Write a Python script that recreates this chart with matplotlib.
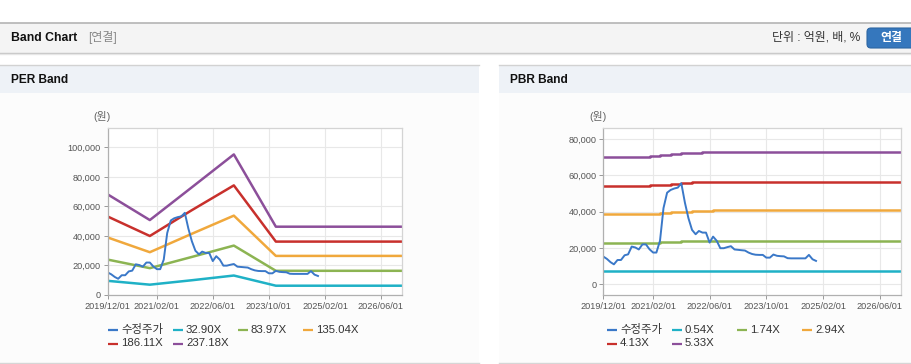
import numpy as np
import pandas as pd
import matplotlib
matplotlib.use("Agg")
import matplotlib.pyplot as plt
from matplotlib.lines import Line2D
from matplotlib.patches import Rectangle, FancyBboxPatch
from matplotlib.transforms import Affine2D

plt.rcParams['font.family'] = ['Liberation Sans', 'Noto Sans CJK KR']

W, H = 912, 364

# ---- data ----
price_dates = pd.date_range('2019-12-01', periods=61, freq='MS')
price = [15300, 14000, 12200, 11000, 13400, 13400, 16000, 16500, 20800, 20300,
         19200, 22000, 22000, 19300, 17500, 17500, 24000, 42000, 50500, 52000,
         52800, 53300, 55700, 45000, 36500, 30000, 27600, 29400, 28500, 28500,
         23000, 26300, 24000, 19900, 19900, 20500, 21000, 19200, 19000, 18800,
         18600, 17500, 16700, 16300, 16200, 16200, 14700, 14700, 16400, 15700,
         15500, 15400, 14400, 14300, 14300, 14300, 14300, 14300, 16200, 13800,
         12900]

per_dates = pd.to_datetime(['2019-12-01', '2020-12-01', '2021-12-01',
                            '2022-12-01', '2023-12-01', '2026-12-01'])
per_names = ['32.90X', '83.97X', '135.04X', '186.11X', '237.18X']
per_bands = [
    [9600, 7000, 10000, 13200, 6300, 6300],
    [24000, 18200, 25800, 33500, 16400, 16400],
    [39000, 29000, 41500, 53800, 26500, 26500],
    [53200, 40000, 57500, 74300, 36200, 36200],
    [68200, 50800, 73000, 95300, 46300, 46300],
]

pbr_dates = pd.to_datetime(['2019-12-01', '2021-01-01', '2021-04-01', '2021-07-01',
                            '2021-10-01', '2022-01-01', '2022-04-01', '2022-07-01',
                            '2026-12-01'])
pbr_names = ['0.54X', '1.74X', '2.94X', '4.13X', '5.33X']
pbr_bands = [
    [7300, 7300, 7350, 7350, 7400, 7400, 7400, 7450, 7450],
    [22800, 23000, 23300, 23500, 23700, 23900, 24000, 24100, 24100],
    [38800, 39000, 39300, 39600, 39900, 40200, 40500, 40800, 40800],
    [54200, 54600, 55000, 55500, 55900, 56200, 56400, 56600, 56600],
    [70400, 70900, 71500, 71900, 72300, 72600, 72800, 73000, 73000],
]

xtick_dates = pd.to_datetime(['2019-12-01', '2021-02-01', '2022-06-01',
                              '2023-10-01', '2025-02-01', '2026-06-01'])
xtick_labels = ['2019/12/01', '2021/02/01', '2022/06/01', '2023/10/01',
                '2025/02/01', '2026/06/01']
per_yticks = [0, 20000, 40000, 60000, 80000, 100000]
pbr_yticks = [0, 20000, 40000, 60000, 80000]

price_name = '수정주가'
price_color = '#3a78c8'
band_colors = ['#1fb1c6', '#8cb452', '#f0a83c', '#c8302c', '#8c4f9a']

# ---- figure & page chrome ----
fig = plt.figure(figsize=(W / 100, H / 100), dpi=100)
fig.patch.set_facecolor('white')
px = Affine2D().scale(1 / W, -1 / H).translate(0, 1) + fig.transFigure


def rect(x, y, w, h, color, z=0):
    fig.add_artist(Rectangle((x, y), w, h, transform=px, facecolor=color,
                             edgecolor='none', zorder=z))


def hline(x0, x1, y, color, lw=1.0):
    fig.add_artist(Line2D([x0, x1], [y, y], transform=px, color=color, lw=lw))


# top header bar
rect(0, 23, W, 30, '#f4f4f4')
hline(0, W, 22.5, '#b4b4b4', 1.2)
hline(0, W, 52.8, '#c4c4c4', 1.0)
hline(0, W, 54.0, '#e6e6e6', 1.0)
fig.text(11 / W, 1 - 38 / H, 'Band Chart', fontsize=8.8, fontweight='bold',
         va='center', ha='left', color='#111')
fig.text(88 / W, 1 - 38 / H, '[연결]', fontsize=8.6, va='center', ha='left',
         color='#888')
fig.text(860 / W, 1 - 38 / H, '단위 : 억원, 배, %', fontsize=8.6, va='center',
         ha='right', color='#333')
fig.add_artist(FancyBboxPatch((867, 28), 50, 20, transform=px,
                              boxstyle='round,pad=0,rounding_size=4',
                              facecolor='#3577bd', edgecolor='#2d66a3', lw=0.8))
fig.text(891 / W, 1 - 38 / H, '연결', fontsize=8.6, fontweight='bold',
         va='center', ha='center', color='white')

# panels
for x0, x1, title in [(0, 479, 'PER Band'), (499, W, 'PBR Band')]:
    rect(x0, 65, x1 - x0, 28, '#eef2f7')
    rect(x0, 93, x1 - x0, 270, '#fcfcfc')
    hline(x0, x1, 64.5, '#d2d2d2', 1.0)
    hline(x0, x1, 362.8, '#d6d6d6', 1.0)
    fig.text((x0 + 11) / W, 1 - 80 / H, title, fontsize=8.6, fontweight='bold',
             va='center', ha='left', color='#111')


def setup_axes(ax, yticks, ylim):
    ax.set_facecolor('white')
    ax.set_xlim(pd.Timestamp('2019-12-01'), pd.Timestamp('2026-12-01'))
    ax.set_ylim(*ylim)
    ax.set_xticks(xtick_dates)
    ax.set_xticklabels(xtick_labels)
    ax.set_yticks(yticks)
    ax.set_yticklabels([f'{v:,}' for v in yticks])
    ax.grid(True, color='#e8e8e8', lw=0.8)
    ax.set_axisbelow(True)
    ax.tick_params(labelsize=6.6, length=3, width=0.7, pad=2)
    ax.tick_params(axis='x', colors='#999', labelcolor='#555')
    ax.tick_params(axis='y', colors='#999', labelcolor='#555')
    for s in ['left', 'bottom']:
        ax.spines[s].set_color('#b0b0b0')
    for s in ['top', 'right']:
        ax.spines[s].set_color('#d4d4d4')
    for s in ax.spines.values():
        s.set_linewidth(0.9)


def legend(x0, names):
    for i, (name, color) in enumerate(names):
        col, row = i % 4, i // 4
        x = x0 + col * 65
        y = 330 + row * 13.5
        fig.add_artist(Line2D([x, x + 10], [y, y], transform=px, color=color,
                              lw=1.6, solid_capstyle='butt'))
        fig.text((x + 13) / W, 1 - y / H, name, fontsize=8.2, va='center',
                 ha='left', color='#333')


# PER chart
ax1 = fig.add_axes([107.7 / W, 1 - 295 / H, 294.3 / W, 166.7 / H])
setup_axes(ax1, per_yticks, (0, 113000))
for vals, c in zip(per_bands, band_colors):
    ax1.plot(per_dates, vals, color=c, lw=1.8, solid_joinstyle='round')
ax1.plot(price_dates, price, color=price_color, lw=1.4)
fig.text(102 / W, 1 - 117 / H, '(원)', fontsize=7.8, va='center', ha='center',
         color='#666')
legend(108, [(price_name, price_color)] + list(zip(per_names, band_colors)))

# PBR chart
ax2 = fig.add_axes([603.3 / W, 1 - 295 / H, 297.7 / W, 166.7 / H])
setup_axes(ax2, pbr_yticks, (-5900, 86000))
for vals, c in zip(pbr_bands, band_colors):
    ax2.plot(pbr_dates, vals, color=c, lw=1.8, drawstyle='steps-post')
ax2.plot(price_dates, price, color=price_color, lw=1.4)
fig.text(598 / W, 1 - 117 / H, '(원)', fontsize=7.8, va='center', ha='center',
         color='#666')
legend(607, [(price_name, price_color)] + list(zip(pbr_names, band_colors)))

fig.savefig('out.png', dpi=100, facecolor=fig.get_facecolor())
